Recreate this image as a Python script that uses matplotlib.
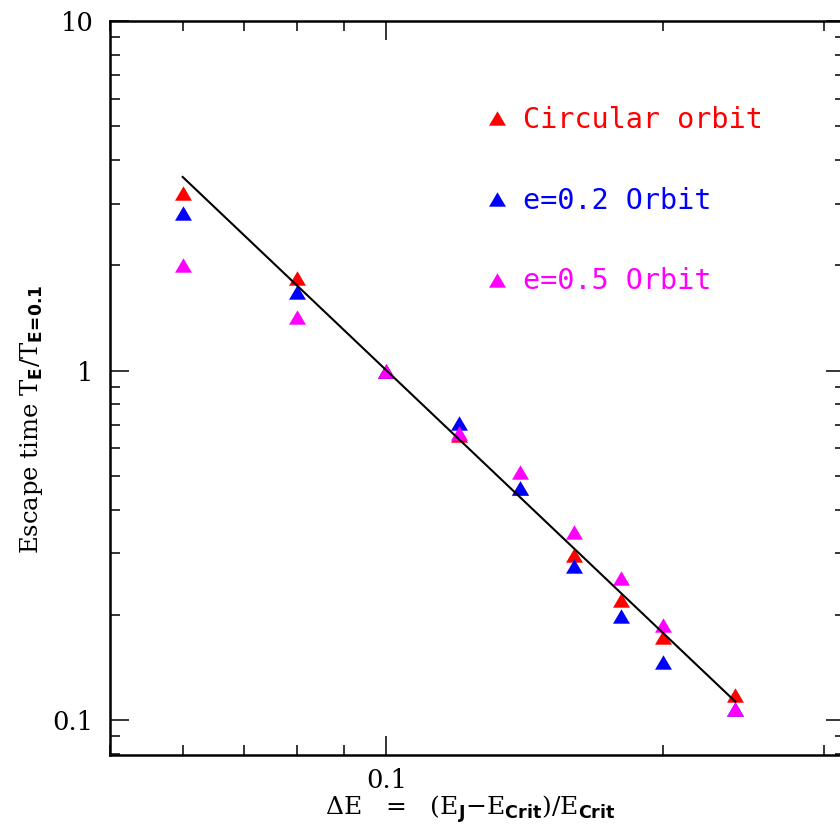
import numpy as np
import matplotlib

matplotlib.use("Agg")
import matplotlib.pyplot as plt
from matplotlib.ticker import LogLocator, NullFormatter, FixedLocator, FixedFormatter

plt.rcParams["mathtext.fontset"] = "custom"
plt.rcParams["mathtext.rm"] = "DejaVu Serif"
plt.rcParams["mathtext.bf"] = "DejaVu Sans:bold"

# energy above critical, relative
delta_e = [0.06, 0.08, 0.1, 0.12, 0.14, 0.16, 0.18, 0.2, 0.24]

# escape times normalised to dE = 0.1
t_circular = [3.22, 1.84, 1.0, 0.655, 0.46, 0.296, 0.220, 0.1726, 0.118]
t_e02 = [2.82, 1.68, 1.0, 0.708, 0.46, 0.276, 0.198, 0.147, 0.1075]
t_e05 = [2.01, 1.42, 1.0, 0.663, 0.514, 0.346, 0.255, 0.1875, 0.1075]

# power-law fit drawn as a straight line
fit_x = [0.06, 0.24]
fit_y = [3.58, 0.113]

series = [
    ("Circular orbit", t_circular, "#ff0000"),
    ("e=0.2 Orbit", t_e02, "#0000ff"),
    ("e=0.5 Orbit", t_e05, "#ff00ff"),
]

tri = [(-1, -0.85), (1, -0.85), (0, 0.85)]

fig = plt.figure(figsize=(8.4, 8.39), dpi=100)
ax = fig.add_axes([110 / 840, 1 - 755 / 839, 735 / 840, 734 / 839])

handles = []
for label, vals, col in series:
    (h,) = ax.plot(
        delta_e, vals, linestyle="none", marker=tri, markersize=12.2,
        color=col, markeredgewidth=0, label=label, zorder=3,
    )
    handles.append(h)

ax.plot(fit_x, fit_y, color="black", linewidth=1.5, zorder=4)

ax.set_xscale("log")
ax.set_yscale("log")
ax.set_xlim(0.05, 0.316)
ax.set_ylim(0.0795, 10)

ax.xaxis.set_major_locator(FixedLocator([0.1]))
ax.xaxis.set_major_formatter(FixedFormatter(["0.1"]))
ax.xaxis.set_minor_locator(LogLocator(subs=np.arange(2, 10)))
ax.xaxis.set_minor_formatter(NullFormatter())
ax.yaxis.set_major_locator(FixedLocator([0.1, 1, 10]))
ax.yaxis.set_major_formatter(FixedFormatter(["0.1", "1", "10"]))
ax.yaxis.set_minor_locator(LogLocator(subs=np.arange(2, 10)))
ax.yaxis.set_minor_formatter(NullFormatter())

ax.tick_params(which="both", direction="in", top=True, right=True, width=1.1)
ax.tick_params(which="major", length=13.7, labelsize=18.5)
ax.tick_params(which="minor", length=7.2)
ax.tick_params(axis="x", which="major", pad=9.5)
ax.tick_params(axis="y", which="major", pad=12)
for lab in ax.get_xticklabels() + ax.get_yticklabels():
    lab.set_family("DejaVu Serif")
for s in ax.spines.values():
    s.set_linewidth(1.8)

ax.set_xlabel(
    r"$\Delta$E   =   (E$_{\mathbf{J}}$$-$E$_{\mathbf{Crit}}$)/E$_{\mathbf{Crit}}$",
    fontsize=18, family="DejaVu Serif",
)
ax.xaxis.set_label_coords(0.49, -0.052)
ax.set_ylabel(
    r"Escape time T$_{\mathbf{E}}$/T$_{\mathbf{E\!=\!0.1}}$",
    fontsize=17.5, family="DejaVu Serif",
)
ax.yaxis.set_label_coords(-0.088, 0.458)

leg = ax.legend(
    handles=handles, loc="upper left", bbox_to_anchor=(0.5075, 0.884),
    frameon=False, numpoints=1, handlelength=1.0, handletextpad=0.4,
    labelspacing=1.85, borderpad=0, borderaxespad=0,
    prop={"family": "DejaVu Sans Mono", "size": 20.5},
)
for txt, (_, _, col) in zip(leg.get_texts(), series):
    txt.set_color(col)

fig.savefig("out.png", dpi=100)
